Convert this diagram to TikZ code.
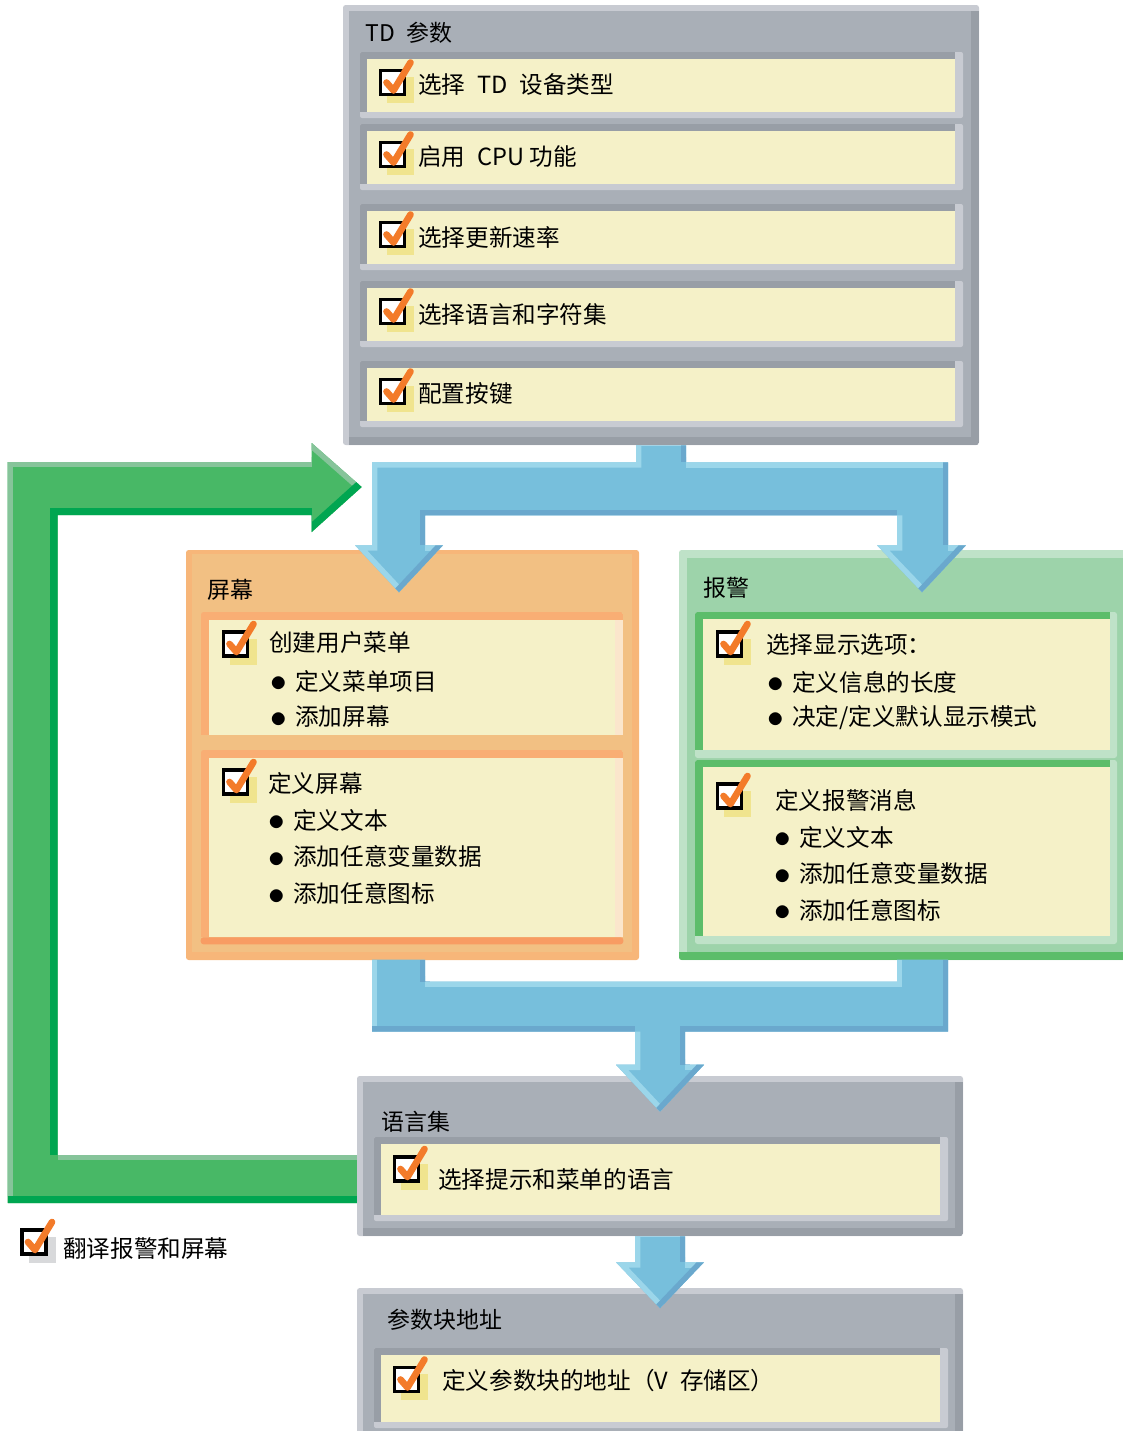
\documentclass[tikz,border=0pt]{standalone}
\usepackage{fontspec}
\setmainfont{Noto Sans CJK SC}
\usepackage{xcolor}
\usetikzlibrary{positioning, fit, calc, backgrounds}

\definecolor{grayMain}{HTML}{A9AFB7}
\definecolor{grayLite}{HTML}{C8CBD2}
\definecolor{grayDeep}{HTML}{989EA6}
\definecolor{cream}{HTML}{F5F1C8}
\definecolor{chkShade}{HTML}{F0E48E}
\definecolor{legShade}{HTML}{D8D9DB}
\definecolor{chkOrange}{HTML}{F37B2A}
\definecolor{blueMain}{HTML}{77BFDC}
\definecolor{blueLite}{HTML}{9BD6EA}
\definecolor{blueDeep}{HTML}{6AA8CD}
\definecolor{greenMain}{HTML}{48B866}
\definecolor{greenDeep}{HTML}{00A651}
\definecolor{greenLite}{HTML}{86C49A}
\definecolor{orgMain}{HTML}{F2C083}
\definecolor{orgEdge}{HTML}{F7B679}
\definecolor{orgStripe}{HTML}{F9AE74}
\definecolor{orgBottom}{HTML}{F89C63}
\definecolor{orgSide}{HTML}{FBE6CC}
\definecolor{almMain}{HTML}{9DD3AA}
\definecolor{almLite}{HTML}{BFE2C8}
\definecolor{almStripe}{HTML}{5CBD6A}

\newcommand{\bul}{\makebox[18.75pt][l]{\raisebox{-1.2pt}{\fontsize{23}{23}\selectfont$\bullet$}}}

\tikzset{
  txt/.style={anchor=west, inner sep=0pt, font=\fontsize{17.7}{21}\selectfont},
  ttl/.style={anchor=west, inner sep=0pt, font=\fontsize{17.2}{21}\selectfont},
  graybox/.style={inner sep=0pt, fill=grayLite, rounded corners=2pt, path picture={
      \fill[grayDeep, sharp corners] ([xshift=4.5pt, yshift=-4.5pt]path picture bounding box.north west)
        rectangle (path picture bounding box.south east);
      \fill[grayMain, sharp corners] ([xshift=4.5pt, yshift=-4.5pt]path picture bounding box.north west)
        rectangle ([xshift=-6pt, yshift=6pt]path picture bounding box.south east);}},
  rowbox/.style={inner sep=0pt, fill=grayLite, rounded corners=1.5pt, path picture={
      \fill[grayDeep, sharp corners] (path picture bounding box.north west)
        rectangle ([xshift=-6pt, yshift=4.5pt]path picture bounding box.south east);
      \fill[cream, sharp corners] ([xshift=5pt, yshift=-5pt]path picture bounding box.north west)
        rectangle ([xshift=-6pt, yshift=4.5pt]path picture bounding box.south east);}},
  scrbox/.style={inner sep=0pt, fill=orgEdge, rounded corners=2pt, path picture={
      \fill[orgMain, sharp corners] ([xshift=4.5pt, yshift=-3pt]path picture bounding box.north west)
        rectangle ([xshift=-5.25pt, yshift=6pt]path picture bounding box.south east);}},
  scrpanel/.style={inner sep=0pt, fill=orgMain, rounded corners=2pt, path picture={
      \fill[orgStripe, sharp corners] (path picture bounding box.north west)
        rectangle ([yshift=5.25pt]path picture bounding box.south east);
      \fill[orgSide, sharp corners] ([xshift=6pt, yshift=-6pt]path picture bounding box.north west)
        rectangle ([yshift=5.25pt]path picture bounding box.south east);
      \fill[cream, sharp corners] ([xshift=6pt, yshift=-6pt]path picture bounding box.north west)
        rectangle ([xshift=-6pt, yshift=5.25pt]path picture bounding box.south east);}},
  almbox/.style={inner sep=0pt, fill=almLite, rounded corners=2pt, path picture={
      \fill[almMain, sharp corners] ([xshift=6pt, yshift=-6pt]path picture bounding box.north west)
        rectangle (path picture bounding box.south east);
      \fill[almStripe, sharp corners] ([yshift=6pt]path picture bounding box.south west)
        rectangle (path picture bounding box.south east);}},
  almpanel/.style={inner sep=0pt, fill=almLite, rounded corners=2pt, path picture={
      \fill[almStripe, sharp corners] (path picture bounding box.north west)
        rectangle ([xshift=-5.25pt, yshift=6pt]path picture bounding box.south east);
      \fill[cream, sharp corners] ([xshift=6pt, yshift=-5.25pt]path picture bounding box.north west)
        rectangle ([xshift=-5.25pt, yshift=6pt]path picture bounding box.south east);}},
  liteEdge/.style={blueLite, line width=8pt},
  deepEdge/.style={blueDeep, line width=8pt},
  gLite/.style={greenLite, line width=8pt},
  gDeep/.style={greenDeep, line width=11pt},
  chkbox/.pic={
    \fill[chkShade] (-5.5,-5.5) rectangle (21.5,20.5);
    \draw[black, line width=2.3pt, fill=white] (-12,-12) rectangle (12,12);
    \draw[chkOrange, line width=5pt, line cap=round, line join=round] (-6,0) -- (1,8) -- (18,-20);
  },
}

\begin{document}
\begin{tikzpicture}[x=0.75pt, y=-0.75pt]
  \useasboundingbox (0,0) rectangle (1123,1431);

  % TD parameters
  \node[graybox, fit={(343,5) (979,445)}] (td) {};
  \node[ttl] (tdT) at (365,33) {TD\enspace 参数};
  \node[rowbox, fit={(360,52) (963,118)}] (row1) {};
  \node[rowbox, fit={(360,124) (963,190)}] (row2) {};
  \node[rowbox, fit={(360,204) (963,270)}] (row3) {};
  \node[rowbox, fit={(360,281) (963,347)}] (row4) {};
  \node[rowbox, fit={(360,361) (963,427)}] (row5) {};
  \pic at (392.5,82.5) {chkbox};
  \pic at (392.5,154.5) {chkbox};
  \pic at (392.5,234.5) {chkbox};
  \pic at (392.5,311.5) {chkbox};
  \pic at (392.5,391.5) {chkbox};
  \node[txt] (r1) at (418,85) {选择\enspace TD\enspace 设备类型};
  \node[txt] (r2) at (418,157) {启用\enspace CPU 功能};
  \node[txt] (r3) at (418,237) {选择更新速率};
  \node[txt] (r4) at (418,314) {选择语言和字符集};
  \node[txt] (r5) at (418,394) {配置按键};

  % Screens
  \node[scrbox, fit={(186,550) (639,960)}] (scr) {};
  \node[ttl] (scrT) at (207,590) {屏幕};
  \node[scrpanel, fit={(201,612) (623,742)}] (scrA) {};
  \node[scrpanel, fit={(201,750) (623,944)}] (scrB) {};
  \fill[orgBottom, rounded corners=2pt] ([yshift=5.25pt]scrB.south west) rectangle (scrB.south east);
  \pic at (235.5,644) {chkbox};
  \pic at (235.5,782) {chkbox};
  \node[txt] (s1) at (269,643) {创建用户菜单};
  \node[txt] (s1a) at (270,681) {\bul 定义菜单项目};
  \node[txt, below=27pt of s1a.west, anchor=west] (s1b) {\bul 添加屏幕};
  \node[txt] (s2) at (268,783) {定义屏幕};
  \node[txt] (s2a) at (268,820) {\bul 定义文本};
  \node[txt, below=27.6pt of s2a.west, anchor=west] (s2b) {\bul 添加任意变量数据};
  \node[txt, below=27.6pt of s2b.west, anchor=west] (s2c) {\bul 添加任意图标};

  % Alarms
  \node[almbox, fit={(679,550) (1128,960)}] (alm) {};
  \node[ttl] (almT) at (703,588) {报警};
  \node[almpanel, fit={(695,612) (1117,758)}] (almA) {};
  \node[almpanel, fit={(695,760) (1117,944)}] (almB) {};
  \pic at (729.5,644) {chkbox};
  \pic at (729.5,796) {chkbox};
  \node[txt] (a1) at (766,645) {选择显示选项：};
  \node[txt] (a1a) at (767,682) {\bul 定义信息的长度};
  \node[txt, below=27pt of a1a.west, anchor=west] (a1b) {\bul 决定/定义默认显示模式};
  \node[txt] (a2) at (775,800) {定义报警消息};
  \node[txt] (a2a) at (774,837) {\bul 定义文本};
  \node[txt, below=27.4pt of a2a.west, anchor=west] (a2b) {\bul 添加任意变量数据};
  \node[txt, below=27.4pt of a2b.west, anchor=west] (a2c) {\bul 添加任意图标};

  % Language set
  \node[graybox, fit={(357,1076) (963,1236)}] (lang) {};
  \node[ttl] (langT) at (381,1122) {语言集};
  \node[rowbox, fit={(374,1137) (948,1221)}] (langR) {};
  \pic at (406.5,1169) {chkbox};
  \node[txt] (l1) at (438,1179) {选择提示和菜单的语言};

  % Parameter block address
  \node[graybox, fit={(357,1288) (963,1442)}] (addr) {};
  \node[ttl] (addrT) at (387,1320) {参数块地址};
  \node[rowbox, fit={(374,1348) (948,1428)}] (addrR) {};
  \pic at (406.5,1379.5) {chkbox};
  \node[txt] (p1) at (442,1381) {定义参数块的地址（V\enspace 存储区）};

  % Translate loop (green)
  \begin{scope}[on background layer, shift={(lang.west)}]
    \clip (5,-1) -- (-299,-1) -- (-299,-641) -- (-45,-641) -- (-45,-624) -- (5,-669)
      -- (-45,-713) -- (-45,-694) -- (-349,-694) -- (-349,47) -- (5,47) -- cycle;
    \fill[greenMain] (-360,-720) rectangle (10,50);
    \draw[gLite] (-45,-694) -- (-349,-694) -- (-349,47);
    \draw[gLite] (-299,-1) -- (5,-1);
    \draw[gLite] (-45,-713) -- (5,-669);
    \draw[gDeep] (-45,-641) -- (-299,-641) -- (-299,-1);
    \draw[gDeep] (-349,47) -- (5,47);
    \draw[gDeep] (5,-669) -- (-45,-624);
  \end{scope}
  \begin{scope}
    \colorlet{chkShade}{legShade}
    \pic at (34,1242) {chkbox};
  \end{scope}
  \node[txt] (leg) at (63,1249) {翻译报警和屏幕};

  % Split arrow
  \begin{scope}[shift={(td.south)}]
    \clip (-25,0) -- (-25,17) -- (-289,17) -- (-289,100) -- (-306,100) -- (-262,147)
      -- (-218,100) -- (-236,100) -- (-236,70) -- (236,70) -- (236,100) -- (216,100)
      -- (261,147) -- (305,100) -- (287,100) -- (287,17) -- (25,17) -- (25,0) -- cycle;
    \fill[blueMain] (-320,-5) rectangle (320,160);
    \draw[liteEdge] (-25,0) -- (-25,17) -- (-289,17) -- (-289,100) -- (-306,100) -- (-262,147);
    \draw[liteEdge] (25,17) -- (287,17);
    \draw[liteEdge] (-236,100) -- (-218,100);
    \draw[liteEdge] (236,70) -- (236,100) -- (216,100) -- (261,147);
    \draw[liteEdge] (287,100) -- (305,100);
    \draw[deepEdge] (25,0) -- (25,17);
    \draw[deepEdge] (-262,147) -- (-218,100);
    \draw[deepEdge] (-236,100) -- (-236,70) -- (236,70);
    \draw[deepEdge] (287,17) -- (287,100);
    \draw[deepEdge] (261,147) -- (305,100);
  \end{scope}

  % Merge arrow
  \begin{scope}[shift={(lang.north)}]
    \clip (-288,-116) -- (-288,-44) -- (-25,-44) -- (-25,-11) -- (-44,-11) -- (0,36)
      -- (44,-11) -- (25,-11) -- (25,-44) -- (288,-44) -- (288,-116) -- (237,-116)
      -- (237,-94) -- (-235,-94) -- (-235,-116) -- cycle;
    \fill[blueMain] (-300,-120) rectangle (300,40);
    \draw[liteEdge] (-288,-116) -- (-288,-44);
    \draw[liteEdge] (-235,-94) -- (237,-94) -- (237,-116);
    \draw[liteEdge] (-25,-44) -- (-25,-11) -- (-44,-11) -- (0,36);
    \draw[liteEdge] (25,-11) -- (44,-11);
    \draw[deepEdge] (-288,-44) -- (-25,-44);
    \draw[deepEdge] (25,-11) -- (25,-44) -- (288,-44) -- (288,-116);
    \draw[deepEdge] (-235,-116) -- (-235,-94);
    \draw[deepEdge] (0,36) -- (44,-11);
  \end{scope}

  % Language set -> address
  \begin{scope}[shift={(lang.south)}]
    \clip (-25,0) -- (-25,26) -- (-44,26) -- (0,72) -- (44,26) -- (25,26) -- (25,0) -- cycle;
    \fill[blueMain] (-50,-2) rectangle (50,75);
    \draw[liteEdge] (-25,0) -- (-25,26) -- (-44,26) -- (0,72);
    \draw[liteEdge] (25,26) -- (44,26);
    \draw[deepEdge] (25,0) -- (25,26);
    \draw[deepEdge] (0,72) -- (44,26);
  \end{scope}
\end{tikzpicture}
\end{document}
